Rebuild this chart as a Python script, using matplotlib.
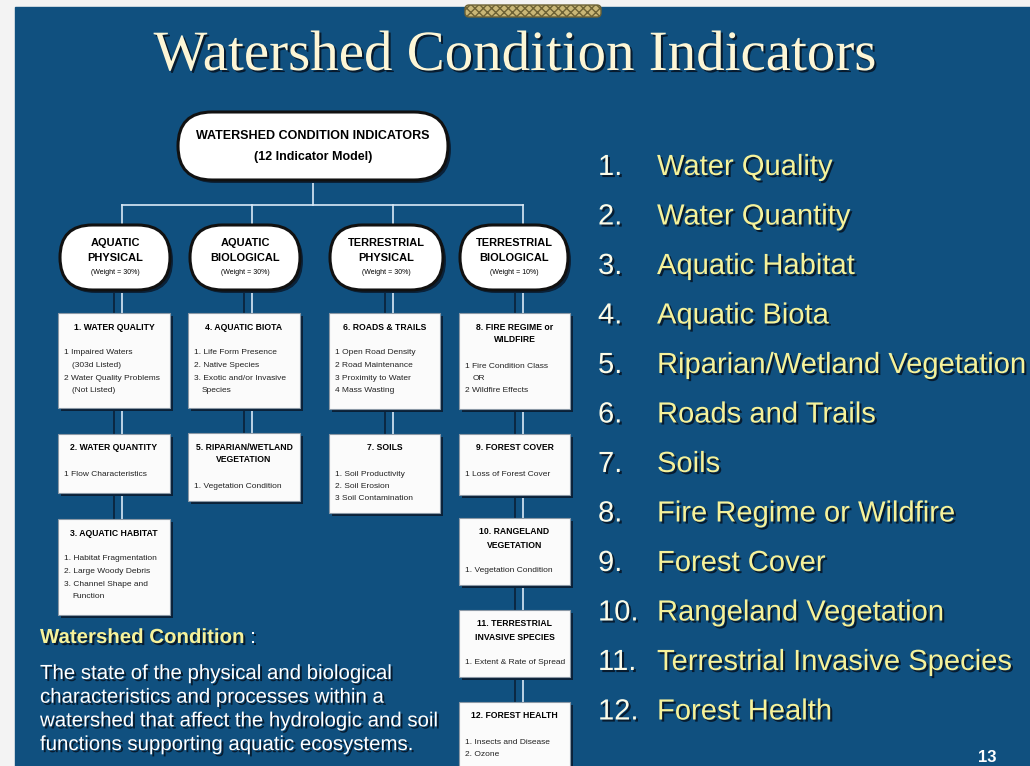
import matplotlib
matplotlib.use("Agg")
import matplotlib.pyplot as plt
from matplotlib.patches import Rectangle, FancyBboxPatch
import matplotlib.patheffects as pe

# chart content
title = "Watershed Condition Indicators"
model_lines = ["WATERSHED CONDITION INDICATORS", "(12 Indicator Model)"]
pillar_names = ["AQUATIC\nPHYSICAL", "AQUATIC\nBIOLOGICAL", "TERRESTRIAL\nPHYSICAL", "TERRESTRIAL\nBIOLOGICAL"]
pillar_weights = ["30%", "30%", "30%", "10%"]
indicator_titles = ["1. WATER QUALITY", "2. WATER QUANTITY", "3. AQUATIC HABITAT",
                    "4. AQUATIC BIOTA", "5. RIPARIAN/WETLAND\nVEGETATION",
                    "6. ROADS & TRAILS", "7. SOILS",
                    "8. FIRE REGIME or\nWILDFIRE", "9. FOREST COVER", "10. RANGELAND\nVEGETATION",
                    "11. TERRESTRIAL\nINVASIVE SPECIES", "12. FOREST HEALTH"]
indicator_attributes = [
    ["1 Impaired Waters", " (303d Listed)", "2 Water Quality Problems", " (Not Listed)"],
    ["1 Flow Characteristics"],
    ["1. Habitat Fragmentation", "2. Large Woody Debris", "3. Channel Shape and", " Function"],
    ["1. Life Form Presence", "2. Native Species", "3. Exotic and/or Invasive", " Species"],
    ["1. Vegetation Condition"],
    ["1 Open Road Density", "2 Road Maintenance", "3 Proximity to Water", "4 Mass Wasting"],
    ["1. Soil Productivity", "2. Soil Erosion", "3 Soil Contamination"],
    ["1 Fire Condition Class", " OR", "2 Wildfire Effects"],
    ["1 Loss of Forest Cover"],
    ["1. Vegetation Condition"],
    ["1. Extent & Rate of Spread"],
    ["1. Insects and Disease", "2. Ozone"],
]
indicator_pillar = [0, 0, 0, 1, 1, 2, 2, 3, 3, 3, 3, 3]
list_names = ["Water Quality", "Water Quantity", "Aquatic Habitat", "Aquatic Biota",
              "Riparian/Wetland Vegetation", "Roads and Trails", "Soils",
              "Fire Regime or Wildfire", "Forest Cover", "Rangeland Vegetation",
              "Terrestrial Invasive Species", "Forest Health"]
definition_head = "Watershed Condition"
definition_lines = ["The state of the physical and biological",
                    "characteristics and processes within a",
                    "watershed that affect the hydrologic and soil",
                    "functions supporting aquatic ecosystems."]
page_number = "13"

# layout (pixels)
col_x = [(58, 170), (188, 300), (329, 440), (459, 570)]
pill_x = [(60, 170), (190, 300), (330, 443), (460, 568)]
pill_y = (225, 290)
box_y = [(313, 408), (434, 493), (519, 615), (313, 408), (433, 501), (313, 409),
         (434, 513), (313, 409), (434, 495), (518, 585), (610, 677), (702, 775)]

BLUE = "#10507f"
YELLOW = "#f6f29a"
LINE = "#d9e9f6"
DARK = "#0a2138"
SANS = "Liberation Sans"

fig = plt.figure(figsize=(10.3, 7.66), dpi=100)
fig.patch.set_facecolor("#f3f3f3")
ax = fig.add_axes([0, 0, 1, 1])
ax.set_xlim(0, 1030)
ax.set_ylim(766, 0)
ax.axis("off")

ax.add_patch(Rectangle((15, 7), 1030, 800, color=BLUE, zorder=0))
ax.add_patch(FancyBboxPatch((465, 5), 136, 12, boxstyle="round,pad=0,rounding_size=4",
                            fc="#c9b777", ec="#6d6235", lw=1, hatch="xxxx", zorder=1))

shadow = [pe.SimplePatchShadow(offset=(1.5, -1.5), shadow_rgbFace="#061626", alpha=0.9), pe.Normal()]
ax.text(515, 70, title, family="Liberation Serif", fontsize=41, color="#fdf6d6",
        ha="center", va="baseline", path_effects=shadow)

# connectors
centers = [(a + b) / 2 for a, b in col_x]
ax.plot([313, 313], [180, 205], color=LINE, lw=1.2, zorder=1)
ax.plot([centers[0] + 8, centers[3] + 8], [205, 205], color=LINE, lw=1.2, zorder=1)
for c in centers:
    ax.plot([c + 8, c + 8], [205, 226], color=LINE, lw=1.2, zorder=1)
for p in range(4):
    ys = sorted(box_y[i] for i in range(12) if indicator_pillar[i] == p)
    gaps = [(pill_y[1], ys[0][0])] + [(ys[j][1], ys[j + 1][0]) for j in range(len(ys) - 1)]
    for g0, g1 in gaps:
        ax.plot([centers[p], centers[p]], [g0, g1], color=DARK, lw=1.2, zorder=1)
        ax.plot([centers[p] + 8, centers[p] + 8], [g0, g1], color=LINE, lw=1.2, zorder=1)

# top box
ax.add_patch(FancyBboxPatch((181, 115), 270, 68, boxstyle="round,pad=0,rounding_size=34",
                            fc=DARK, ec="none", zorder=2))
ax.add_patch(FancyBboxPatch((178, 112), 270, 68, boxstyle="round,pad=0,rounding_size=34",
                            fc="white", ec="#111111", lw=2.2, zorder=3))
ax.text(313, 136, model_lines[0], family=SANS, weight="bold", fontsize=9.0,
        ha="center", va="center", zorder=4)
ax.text(313, 157, model_lines[1], family=SANS, weight="bold", fontsize=9.0,
        ha="center", va="center", zorder=4)

# pillar pills
for (x0, x1), name, w in zip(pill_x, pillar_names, pillar_weights):
    h = pill_y[1] - pill_y[0]
    ax.add_patch(FancyBboxPatch((x0 + 3, pill_y[0] + 3), x1 - x0, h,
                                boxstyle=f"round,pad=0,rounding_size={h / 2}",
                                fc=DARK, ec="none", zorder=2))
    ax.add_patch(FancyBboxPatch((x0, pill_y[0]), x1 - x0, h,
                                boxstyle=f"round,pad=0,rounding_size={h / 2}",
                                fc="white", ec="#111111", lw=2.2, zorder=3))
    cx = (x0 + x1) / 2
    for j, line in enumerate(name.split("\n")):
        ax.text(cx, 243 + 15 * j, line, family=SANS, weight="bold", fontsize=7.9,
                ha="center", va="center", zorder=4)
    ax.text(cx, 273, f"(Weight = {w})", family=SANS, fontsize=5.0,
            ha="center", va="center", zorder=4)

# indicator boxes
for i in range(12):
    x0, x1 = col_x[indicator_pillar[i]]
    y0, y1 = box_y[i]
    ax.add_patch(Rectangle((x0 + 3, y0 + 3), x1 - x0, y1 - y0, fc=DARK, ec="none", zorder=2))
    ax.add_patch(Rectangle((x0, y0), x1 - x0, y1 - y0, fc="#fbfbfb", ec="#8c99a6", lw=0.8, zorder=3))
    tl = indicator_titles[i].split("\n")
    for j, line in enumerate(tl):
        ax.text((x0 + x1) / 2, y0 + 14 + 13 * j, line, family=SANS, weight="bold",
                fontsize=6.2, ha="center", va="center", zorder=4)
    ya = y0 + 14 + 13 * (len(tl) - 1) + 26
    for j, line in enumerate(indicator_attributes[i]):
        indent = 8 if line.startswith(" ") else 0
        ax.text(x0 + 6 + indent, ya + 12.5 * j, line.strip(), family=SANS,
                fontsize=6.0, ha="left", va="center", color="#222222", zorder=4)

# right-hand list
for i, name in enumerate(list_names):
    yb = 175 + 49.5 * i
    ax.text(598, yb, f"{i + 1}.", family=SANS, fontsize=21, color="#fbfbe8",
            ha="left", va="baseline", path_effects=shadow)
    ax.text(657, yb, name, family=SANS, fontsize=21, color=YELLOW,
            ha="left", va="baseline", path_effects=shadow)

# definition
ax.text(40, 643, definition_head, family=SANS, weight="bold", fontsize=14.7,
        color=YELLOW, ha="left", va="baseline", path_effects=shadow)
ax.text(250, 643, ":", family=SANS, fontsize=14.7, color="white",
        ha="left", va="baseline", path_effects=shadow)
for j, line in enumerate(definition_lines):
    ax.text(40, 679 + 23.7 * j, line, family=SANS, fontsize=14.7, color="white",
            ha="left", va="baseline", path_effects=shadow)

ax.text(987, 757, page_number, family=SANS, weight="bold", fontsize=12,
        color="white", ha="center", va="center")

fig.savefig("out.png", dpi=100, facecolor=fig.get_facecolor())
